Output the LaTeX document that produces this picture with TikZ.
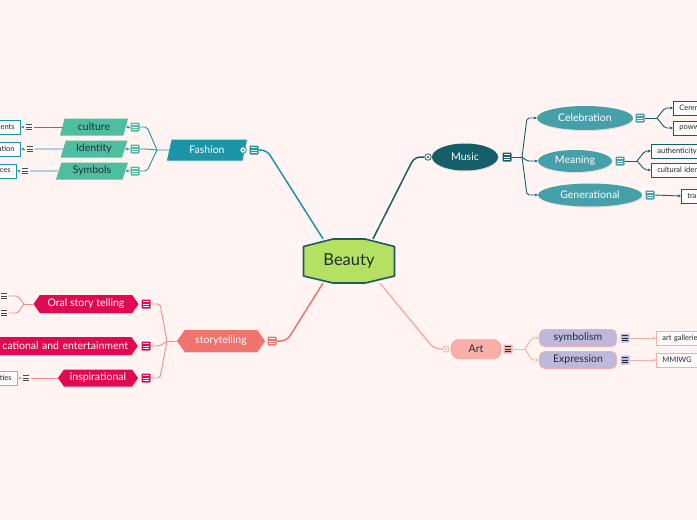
\documentclass[tikz,border=0pt]{standalone}
\usepackage{fontspec}
\setmainfont{Lato}
\usepackage{tikz}
\usetikzlibrary{shapes.geometric}
\usetikzlibrary{shapes.symbols}
\usetikzlibrary{arrows.meta}
\usetikzlibrary{shadows}

\definecolor{bgpink}{RGB}{255,244,242}
\definecolor{rootfill}{RGB}{181,224,98}
\definecolor{rootline}{RGB}{30,90,105}
\definecolor{fashteal}{RGB}{26,150,166}
\definecolor{fashmint}{RGB}{78,190,160}
\definecolor{musdark}{RGB}{20,95,106}
\definecolor{muslight}{RGB}{70,160,170}
\definecolor{storycoral}{RGB}{241,115,110}
\definecolor{storyline}{RGB}{244,140,134}
\definecolor{storyred}{RGB}{224,10,80}
\definecolor{artpink}{RGB}{249,174,168}
\definecolor{artlav}{RGB}{190,184,220}
\definecolor{leaffill}{RGB}{255,251,250}
\definecolor{textdark}{RGB}{35,45,50}

\tikzset{
  every node/.style={font=\fontsize{10.5}{12}\selectfont},
  hint/.style={drop shadow={shadow xshift=0.8pt,shadow yshift=-1.2pt,opacity=0.18}},
  menu/.style 2 args={fill=#1, minimum size=9pt, inner sep=0pt, rounded corners=0.8pt,
    path picture={\foreach \yy in {-2.2,0,2.2}
      \draw[#2,line width=0.75pt] ([xshift=-2.6pt,yshift=\yy pt]path picture bounding box.center) -- ++(5.2pt,0pt);}},
  bars/.style={menu={bgpink}{textdark!85}},
  knob/.style={circle, draw=#1, fill=bgpink, line width=0.8pt, minimum size=6.5pt, inner sep=0pt,
    path picture={\fill[#1] (path picture bounding box.center) circle (1.2pt);}},
  rootbody/.style={fill=rootfill, draw=rootline, line width=1.6pt, line join=round, hint},
  root/.style={text=textdark, minimum width=91pt, minimum height=44pt, inner sep=0pt,
    font=\fontsize{16.5}{18}\selectfont},
  para/.style={trapezium, trapezium left angle=65, trapezium right angle=115,
    trapezium stretches body, inner ysep=1pt},
  pointy/.style={signal, signal to=west and east, signal pointer angle=110, inner ysep=1pt},
  leaf/.style={draw=#1, fill=leaffill, line width=0.7pt, minimum height=14pt, inner xsep=6pt,
    inner ysep=0pt, text=textdark, font=\fontsize{7.5}{9}\selectfont},
  trunk/.style={draw=#1, line width=1.5pt, rounded corners=6pt},
  twig/.style={draw=#1, line width=0.9pt, rounded corners=2pt},
  tip/.style={-{Stealth[length=3.2pt,width=3pt]}}
}

\begin{document}
\begin{tikzpicture}[x=1pt,y=-1pt]

    \useasboundingbox (0,0) rectangle (697,520);
    \fill[bgpink] (0,0) rectangle (697,520);
    \clip (0,0) rectangle (697,520);

    % Root
    \coordinate (rootc) at (349,261);
    \path[rootbody] ([shift={(-45.5,-14.5)}]rootc) -- ([shift={(-16,-22)}]rootc) -- ([shift={(16,-22)}]rootc)
        -- ([shift={(45.5,-14.5)}]rootc) -- ([shift={(45.5,15)}]rootc) -- ([shift={(16,22)}]rootc)
        -- ([shift={(-16,22)}]rootc) -- ([shift={(-45.5,15)}]rootc) -- cycle;
    \node[root] (beauty) at (rootc) {Beauty};

    % Fashion
    \node[para, fill=fashteal, text=white, minimum width=80pt, minimum height=21pt, hint] (fashion) at (207,150) {Fashion};
    \node[knob=fashteal] (fashk) at (243,150) {};
    \node[menu={fashteal}{white}] (m-fashion) at (254,150) {};

    \node[para, fill=fashmint, text=textdark, minimum width=68pt, minimum height=17pt] (culture) at (94,127) {culture};
    \node[para, fill=fashmint, text=textdark, minimum width=67pt, minimum height=17pt] (identity) at (94,149) {Identity};
    \node[para, fill=fashmint, text=textdark, minimum width=72pt, minimum height=17pt] (symbols) at (92,171) {Symbols};
    \node[menu={fashmint}{white}] (m-culture) at (135,127) {};
    \node[menu={fashmint}{white}] (m-identity) at (135,149) {};
    \node[menu={fashmint}{white}] (m-symbols) at (135,171) {};

    \node[bars] (b-culture) at (29,127) {};
    \node[bars] (b-identity) at (30,149) {};
    \node[bars] (b-symbols) at (25,171) {};
    \node[leaf=fashteal, anchor=east, text width=30pt, align=right] (l-culture) at (21,127) {ents};
    \node[leaf=fashteal, anchor=east, text width=30pt, align=right] (l-identity) at (21,149) {ation};
    \node[leaf=fashteal, anchor=east, text width=30pt, align=right] (l-symbols) at (17,171) {ces};

    % Music
    \node[ellipse, fill=musdark, text=white, minimum width=66pt, minimum height=27pt, inner sep=0pt, hint] (music) at (465,157) {Music};
    \node[knob=musdark] (musk) at (428,157) {};
    \node[menu={musdark}{white}] (m-music) at (507,157) {};

    \node[ellipse, fill=muslight, text=white, minimum width=96pt, minimum height=24pt, inner sep=0pt, hint] (celebration) at (585,118) {Celebration};
    \node[ellipse, fill=muslight, text=white, minimum width=74pt, minimum height=22pt, inner sep=0pt, hint] (meaning) at (575,161) {Meaning};
    \node[ellipse, fill=muslight, text=white, minimum width=104pt, minimum height=23pt, inner sep=0pt, hint] (generational) at (590,195) {Generational};
    \node[menu={muslight}{white}] (m-celebration) at (640,118) {};
    \node[menu={muslight}{white}] (m-meaning) at (620,161) {};
    \node[menu={muslight}{white}] (m-generational) at (650,195) {};

    \node[leaf=musdark, anchor=west, text width=40pt] (l-ceren) at (673,108) {Ceren};
    \node[leaf=musdark, anchor=west, text width=40pt] (l-poww) at (673,128) {poww};
    \node[leaf=musdark, anchor=west, text width=50pt] (l-authentic) at (651,151) {authenticity};
    \node[leaf=musdark, anchor=west, text width=50pt] (l-cultural) at (651,170) {cultural iden};
    \node[leaf=musdark, anchor=west, text width=30pt] (l-tra) at (681,196) {tra};

    % Storytelling
    \node[pointy, fill=storycoral, text=white, minimum width=88pt, minimum height=22pt, hint] (story) at (221,341) {storytelling};
    \node[menu={storycoral}{white}] (m-story) at (272,341) {};

    \node[pointy, fill=storyred, text=white, minimum width=105pt, minimum height=18pt, hint] (oral) at (86,304) {Oral story telling};
    \node[pointy, fill=storyred, text=white, anchor=east, minimum height=18pt, text width=128pt, align=right, hint] (educ) at (138,346) {cational and entertainment};
    \node[pointy, fill=storyred, text=white, minimum width=80pt, minimum height=17pt, hint] (inspire) at (98,378) {inspirational};
    \node[menu={storyred}{white}] (m-oral) at (146,304) {};
    \node[menu={storyred}{white}] (m-educ) at (146,346) {};
    \node[menu={storyred}{white}] (m-inspire) at (146,378) {};

    \node[bars] (b-oral1) at (4,296) {};
    \node[bars] (b-oral2) at (4,313) {};
    \node[bars] (b-inspire) at (26,378) {};
    \node[leaf=storyline, anchor=east, text width=30pt, align=right] (l-inspire) at (18,378) {ties};

    % Art
    \node[rectangle, rounded corners=8pt, fill=artpink, draw=artpink!85!red, text=textdark, minimum width=50pt, minimum height=19pt, hint] (art) at (476,349) {Art};
    \node[knob=artpink] (artk) at (446,349) {};
    \node[menu={artpink}{textdark}] (m-art) at (508,349) {};

    \node[rectangle, rounded corners=5pt, fill=artlav, draw=artpink, line width=0.8pt, text=textdark, minimum width=77pt, minimum height=17pt] (symbolism) at (578,338) {symbolism};
    \node[rectangle, rounded corners=5pt, fill=artlav, draw=artpink, line width=0.8pt, text=textdark, minimum width=77pt, minimum height=17pt] (expression) at (578,360) {Expression};
    \node[menu={artlav}{textdark}] (m-symbolism) at (625,338) {};
    \node[menu={artlav}{textdark}] (m-expression) at (625,360) {};

    \node[leaf=artpink, anchor=west, text width=50pt] (l-gallery) at (656,338) {art gallerie};
    \node[leaf=artpink, anchor=west, minimum width=40pt, align=center] (l-mmiwg) at (656,360) {MMIWG};

    % Trunks
    \draw[trunk=fashteal] (m-fashion.east) -- ++(8,0) -- ([xshift=-26pt]beauty.north);
    \draw[trunk=musdark] ([xshift=24pt]beauty.north) -- ([xshift=-10pt]musk.west) -- (musk.west);
    \draw[trunk=storycoral] (m-story.east) -- ++(10,0) -- ([xshift=-26pt]beauty.south);
    \draw[trunk=artpink] ([xshift=31pt]beauty.south) -- ([xshift=-8pt]artk.west) -- (artk.west);

    % Fashion twigs
    \coordinate (fashhub) at (157,150);
    \draw[twig=fashteal] (fashion.west) -- (fashhub);
    \foreach \n in {culture,identity,symbols} {
        \draw[twig=fashteal] (fashhub) -- ([xshift=-10pt]fashhub |- m-\n.east) -- (m-\n.east);
        \draw[twig=fashteal, tip] (m-\n.west) -- (\n.east);
        \draw[twig=fashteal] (\n.west) -- (b-\n.east);
        \draw[twig=fashteal, tip] (b-\n.west) -- (l-\n.east);
    }

    % Music twigs
    \coordinate (mushub) at (522,157);
    \draw[twig=musdark] (m-music.east) -- (mushub);
    \foreach \n in {celebration,meaning,generational}
        \draw[twig=musdark, tip] (mushub) -- ([xshift=5pt]mushub |- \n.west) -- (\n.west);
    \coordinate (celhub) at (657,118);
    \draw[twig=musdark] (m-celebration.east) -- (celhub);
    \foreach \n in {ceren,poww}
        \draw[twig=musdark, tip] (celhub) -- ([xshift=8pt]celhub |- l-\n.west) -- (l-\n.west);
    \coordinate (meanhub) at (637,161);
    \draw[twig=musdark] (m-meaning.east) -- (meanhub);
    \foreach \n in {authentic,cultural}
        \draw[twig=musdark, tip] (meanhub) -- ([xshift=8pt]meanhub |- l-\n.west) -- (l-\n.west);
    \draw[twig=musdark, tip] (m-generational.east) -- (l-tra.west);

    % Storytelling twigs
    \coordinate (storyhub) at (167,341);
    \draw[twig=storyline] (story.west) -- (storyhub);
    \foreach \n in {oral,educ,inspire}
        \draw[twig=storyline] (storyhub) -- ([xshift=-7pt]storyhub |- m-\n.east) -- (m-\n.east);
    \coordinate (oralhub) at (24,304);
    \draw[twig=storyline] (oral.west) -- (oralhub);
    \foreach \n in {oral1,oral2}
        \draw[twig=storyline] (oralhub) -- ([xshift=-6pt]oralhub |- b-\n.east) -- (b-\n.east);
    \draw[twig=storyline] (inspire.west) -- (b-inspire.east);
    \draw[twig=storyline, tip] (b-inspire.west) -- (l-inspire.east);

    % Art twigs
    \coordinate (arthub) at (525,349);
    \draw[twig=artpink] (m-art.east) -- (arthub);
    \foreach \n in {symbolism,expression}
        \draw[twig=artpink, tip] (arthub) -- ([xshift=7pt]arthub |- \n.west) -- (\n.west);
    \draw[twig=artpink, tip] (m-symbolism.east) -- (l-gallery.west);
    \draw[twig=artpink, tip] (m-expression.east) -- (l-mmiwg.west);

\end{tikzpicture}
\end{document}
